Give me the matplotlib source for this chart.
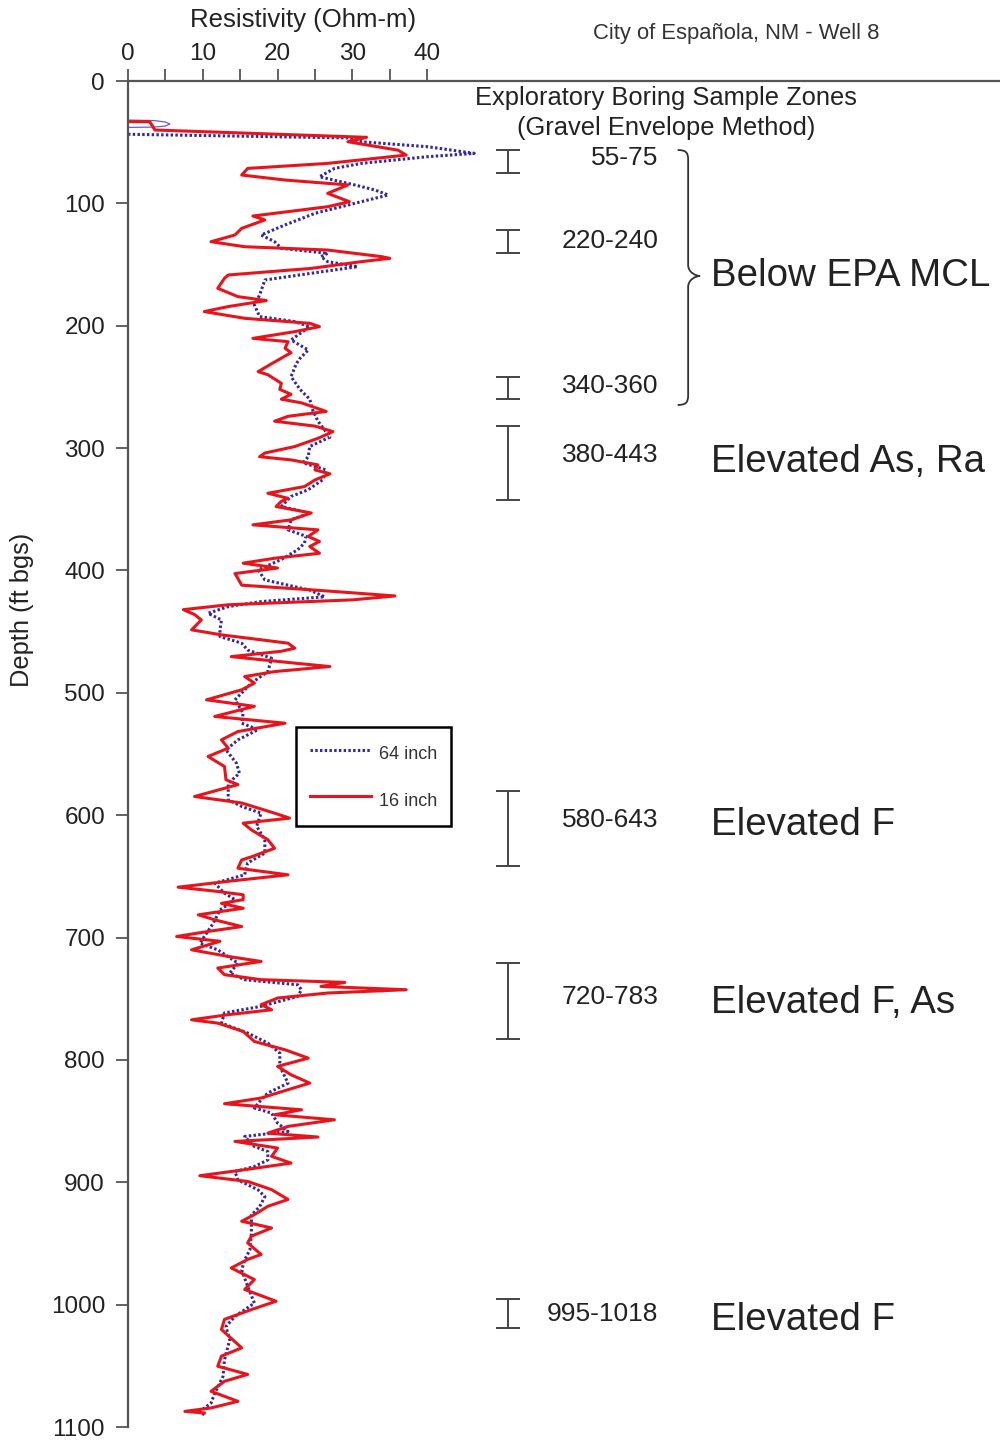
import matplotlib
matplotlib.use("Agg")
import matplotlib.pyplot as plt
from matplotlib.path import Path
from matplotlib.patches import PathPatch

plt.rcParams['font.family'] = ['Liberation Sans', 'DejaVu Sans']

# ---------------- data ----------------
# 16 inch (red, solid)
red_depth = [33.2, 33.2, 40, 46, 49.6, 56.5, 60.5, 67.3, 71.4, 76.8, 80.9, 84.9, 91.8, 98.6, 102.7,
             110.3, 113.5, 120.4, 125.8, 131.3, 135.4, 138.1, 143.5, 144.9, 147.6, 153.1, 158.5,
             161.2, 169.4, 176.2, 179.4, 184.3, 188.4, 193.9, 198, 200.7, 204.8, 210.3, 213, 218.4,
             222, 231, 237.5, 240, 247, 252, 256, 260, 263, 270, 274, 278, 282, 286.5, 292, 298.7,
             304, 307, 309.6, 313.7, 317.8, 321, 326, 331.4, 336.9, 341, 343.5, 347.7, 353, 358.6,
             362.7, 366.8, 372.2, 376.3, 380.4, 385.9, 390, 394, 398, 402.5, 406.5, 412, 416, 420.8,
             424, 428, 432, 436, 440.4, 448.5, 452.6, 459.4, 463.5, 466, 470.4, 475.7, 478.5, 482.6,
             486.7, 492, 497.5, 505.7, 511, 519.3, 524.8, 531.6, 538.4, 545.2, 552, 560.2, 571, 575,
             584.7, 590, 598.3, 602.4, 606.5, 612, 620, 627, 634, 636.6, 643.3, 648.7, 654, 658.8,
             662.3, 665, 669, 672, 676, 681.4, 685.5, 691, 695, 699.1, 703, 710, 715.4, 719.5, 724.9,
             730.3, 734.4, 736.6, 739.9, 742.6, 745.3, 749.4, 754.8, 759, 763, 767.2, 769.9, 776.7,
             784.9, 791.7, 798.5, 805.3, 812.1, 818.9, 824.3, 831.1, 835.8, 840.7, 844.8, 848.9,
             854.3, 859.8, 863, 866.6, 872, 878.8, 884.3, 889.7, 894.6, 899.3, 906, 914, 919.6,
             926.4, 931.8, 937.3, 944, 949.5, 959, 963, 970, 979.5, 987.6, 997.2, 1004, 1012, 1020.3,
             1035.3, 1042, 1050.3, 1057, 1062.6, 1070.8, 1079, 1084.4, 1087.2, 1088.5]
red_res = [0, 2.9, 3.6, 31.9, 29.4, 36.1, 37.2, 26.7, 16, 15.2, 21, 29.4, 26.7, 29.6, 26.7,
           16.7, 18.3, 15.2, 14.3, 11.1, 15.6, 26.7, 33.9, 35, 31.2, 24.5, 13.4,
           12.9, 12, 14.7, 18.5, 13.4, 10.2, 15.6, 24.3, 25.6, 22.3, 16.7, 21.4, 21,
           21.8, 19.2, 17.4, 18.7, 20.5, 20.3, 21.8, 20.5, 23.2, 26.5, 21.4, 19.6, 25, 27.4, 25.4, 22.3,
           18.3, 17.6, 21.8, 25.4, 25, 27, 25, 23.6, 18.7, 21.4, 20.5, 19.8, 24.5, 21.8,
           16.7, 25.4, 24.1, 25.6, 24.3, 25.6, 19.6, 15.4, 20, 14.3, 14.7, 15.2, 25, 35.7,
           30, 13.4, 7.4, 8.9, 9.8, 8.5, 12.5, 21.4, 22.3, 20.5, 13.8, 22.3, 27, 19.6,
           15.6, 16.9, 15.2, 10.5, 16.9, 11.6, 21, 14.7, 12.5, 13.4, 10.7, 12.9, 13.1, 14.7,
           8.9, 15.2, 19.6, 21.6, 15.4, 16.5, 18.7, 19.6, 16.5, 15.2, 14.7, 21.4, 13.4, 6.7,
           12, 15.4, 15.4, 12.5, 15.4, 9.4, 11.6, 15.2, 10.7, 6.5, 12.3, 8.5, 13.4, 17.8, 12,
           12.9, 17.8, 29, 25.8, 37.2, 26.7, 20, 17.8, 19.2, 13.4, 8.5, 12, 15.4,
           16.9, 21, 24.1, 20, 21.8, 24.3, 21.4, 17.8, 12.9, 23.2, 19.6, 27.6,
           21.4, 18.7, 25.4, 14.3, 20, 19.2, 21.8, 15.6, 9.6, 16, 19.2, 21.4, 18.7,
           16.9, 15.2, 19.2, 16.5, 16, 17.8, 16, 13.8, 16.9, 15.6, 19.8, 16.5, 12.9, 12.5,
           15.2, 12.5, 12, 16, 12.9, 11.1, 14.7, 11.1, 7.6, 10.2]

# 64 inch (blue, dotted)
blue_depth = [43.5, 46.5, 49.6, 53.7, 59.1, 61.8, 67.3, 71.4, 78.2, 84.9, 89, 93.1, 98.6, 108.1, 117.6,
              125.8, 131.3, 136.7, 140.8, 143.5, 147.6, 151.7, 157.1, 162.6, 174.8, 183, 192.5, 196.6,
              200.7, 211.6, 219.8, 226.6, 231, 241.6, 252, 260, 269, 278, 291, 298.7, 307, 312, 317.8,
              326, 334, 339.5, 347.7, 353, 358.6, 366.8, 372, 377.6, 383, 391, 399.5, 407.7, 412, 416,
              421.5, 425.4, 429.5, 435, 440.4, 448.5, 454, 459.4, 465, 471.7, 482.6, 492, 505.7, 516.6,
              524.8, 530, 538.4, 546.6, 557.5, 565.7, 574, 587.4, 592.8, 598.3, 609, 620, 631, 639,
              648.7, 655.5, 663.7, 669, 677.4, 688.3, 699.1, 704.6, 710, 720.9, 729, 734.4, 738.6,
              742.6, 748, 756.2, 761.6, 769.9, 778, 786.2, 794.4, 805.3, 819, 827, 832.5, 839.3, 843.4,
              851.6, 858.4, 862.5, 870.7, 874.9, 881.7, 887.1, 891.2, 898, 906.2, 911.7, 919.9, 926.7,
              941.6, 955.2, 963.4, 971.5, 985.1, 998.7, 1009.6, 1017.8, 1028.7, 1045, 1058.7, 1072.3,
              1080.5, 1087.3, 1090]
blue_res = [0, 29.4, 31.2, 40.1, 46.3, 40.1, 31.2, 27.6, 25.6, 30.3, 33, 34.8, 31.2, 25, 21,
            17.8, 19.6, 20.5, 26.7, 25.8, 26.7, 30.7, 24.5, 18.3, 17.6, 16.9, 17.6, 22.3,
            24.3, 21.8, 24.1, 23, 22.5, 21.8, 23, 24.3, 24.7, 25.4, 27, 24.3, 24.1, 23.4, 26.5,
            26, 24.1, 21.8, 20.5, 24.3, 21.8, 21.4, 23.8, 23.6, 22.7, 20.5, 17.4, 18.3, 21.4, 24.3,
            26.3, 17.8, 13.4, 10.7, 12.5, 12.3, 12.3, 15.2, 16, 19.2, 18.7, 16.5, 14.3, 15.4,
            15.2, 17.4, 14.7, 13.1, 14.5, 14.9, 13.4, 13.4, 15.2, 17.8, 17.2, 18.3, 18.3, 16,
            15.6, 11.6, 12.9, 14.3, 12.3, 11.4, 10.2, 9.6, 12, 14.7, 13.6, 15.6, 22.7,
            23.2, 22.7, 17.8, 12.9, 12.5, 16, 18.7, 20.3, 20.3, 21.4, 18.7, 17.8, 16.9, 19.2,
            20, 21.4, 15.6, 16.9, 18.7, 18.7, 16.9, 14.3, 14.7, 17.4, 18.3, 17.6, 16.5,
            16.5, 16.3, 15.6, 15.2, 16, 16.9, 14.3, 13.1, 13.6, 12.9, 12.7, 11.6,
            11.1, 9.6, 10.2]

# thin loop at the very top of the 64 inch log
loop_depth = [31.9, 32.3, 33.5, 35.1, 36.8, 37.6, 37.9]
loop_res = [0, 3.5, 5.0, 5.6, 5.0, 3.5, 0]

# sample zones (labels and drawn extents)
zone_labels = ['55-75', '220-240', '340-360', '380-443', '580-643', '720-783', '995-1018']
zone_top = [56.4, 121.7, 241.8, 281.9, 580.0, 720.6, 995.0]
zone_bottom = [75.2, 140.5, 259.8, 342.3, 641.3, 782.7, 1018.8]
zone_label_depth = [63, 130.7, 249, 305.5, 603.8, 748.4, 1008]

note_labels = ['Below EPA MCL', 'Elevated As, Ra', 'Elevated F', 'Elevated F, As', 'Elevated F']
note_depth = [159.3, 311.3, 607.8, 753.3, 1012.3]

x_major = [0, 10, 20, 30, 40]
x_minor = [5, 15, 25, 35]
y_ticks = list(range(0, 1101, 100))

# ---------------- figure ----------------
fig = plt.figure(figsize=(10, 14.4), dpi=100)
ax = fig.add_axes([0.128, 0.009, 0.872, 0.93472])

RED = '#e8141c'
BLUE = '#33299c'

ax.plot(loop_res, loop_depth, color='#6a5fc0', lw=0.9)
l64, = ax.plot(blue_res, blue_depth, color=BLUE, lw=2.2, linestyle=(0, (0.8, 0.75)),
               label='64 inch')
l16, = ax.plot(red_res, red_depth, color=RED, lw=2.2, label='16 inch')

ax.set_xlim(0, 116.6)
ax.set_ylim(1100, 0)

ax.xaxis.tick_top()
ax.set_xticks(x_major)
ax.set_xticks(x_minor, minor=True)
ax.set_yticks(y_ticks)
ax.tick_params(axis='x', which='both', direction='out', length=8.5, width=1.3,
               color='#555555', labelsize=17.5, pad=3, labelcolor='#222222')
ax.tick_params(axis='y', direction='out', length=8.5, width=1.3, color='#555555',
               labelsize=17.5, pad=8, labelcolor='#222222')

for s in ['right', 'bottom']:
    ax.spines[s].set_visible(False)
for s in ['top', 'left']:
    ax.spines[s].set_color('#555555')
    ax.spines[s].set_linewidth(1.6)

# zone bars
bar_x = 50.8
for top, bot in zip(zone_top, zone_bottom):
    mid = (top + bot) / 2
    ax.errorbar([bar_x], [mid], yerr=[[mid - top], [bot - mid]], fmt='none',
                ecolor='#444444', elinewidth=1.4, capsize=8.5, capthick=1.4)

for lab, d in zip(zone_labels, zone_label_depth):
    ax.text(70.9, d, lab, ha='right', va='center', fontsize=19, color='#222222')

for lab, d in zip(note_labels, note_depth):
    ax.text(77.9, d, lab, ha='left', va='center', fontsize=27.7, color='#222222')

# curly brace
xv, xe, xt = 74.9, 73.5, 76.5
d0, d1, dm = 56.4, 264.7, 159.3
verts = [(xe, d0), (74.6, d0), (xv, d0 + 2), (xv, d0 + 8),
         (xv, dm - 9),
         (xv, dm - 3), (75.9, dm), (xt, dm),
         (75.9, dm), (xv, dm + 3), (xv, dm + 9),
         (xv, d1 - 8),
         (xv, d1 - 2), (74.6, d1), (xe, d1)]
codes = [Path.MOVETO, Path.CURVE4, Path.CURVE4, Path.CURVE4,
         Path.LINETO,
         Path.CURVE4, Path.CURVE4, Path.CURVE4,
         Path.CURVE4, Path.CURVE4, Path.CURVE4,
         Path.LINETO,
         Path.CURVE4, Path.CURVE4, Path.CURVE4]
ax.add_patch(PathPatch(Path(verts, codes), fill=False, edgecolor='#333333', lw=1.3))

ax.text(71.9, 14, 'Exploratory Boring Sample Zones', ha='center', va='center',
        fontsize=18.4, color='#222222')
ax.text(71.9, 38, '(Gravel Envelope Method)', ha='center', va='center',
        fontsize=18.4, color='#222222')

leg = ax.legend(handles=[l64, l16], loc='upper left', bbox_to_anchor=(0.1927, 0.52),
                borderaxespad=0, fontsize=13, handlelength=3.4, handletextpad=0.45,
                handleheight=1.8, labelspacing=1.15, borderpad=0.75, fancybox=False,
                edgecolor='black', framealpha=1)
leg.get_frame().set_linewidth(1.8)
for t in leg.get_texts():
    t.set_color('#333333')

fig.text(0.303, 1 - 20 / 1440, 'Resistivity (Ohm-m)', ha='center', va='center',
         fontsize=18.5, color='#222222')
fig.text(0.022, 1 - 610 / 1440, 'Depth (ft bgs)', ha='center', va='center',
         rotation=90, fontsize=18.3, color='#222222')
fig.text(0.736, 1 - 33 / 1440, 'City of Española, NM - Well 8', ha='center', va='center',
         fontsize=15.8, color='#333333')

fig.savefig('out.png', dpi=100)
